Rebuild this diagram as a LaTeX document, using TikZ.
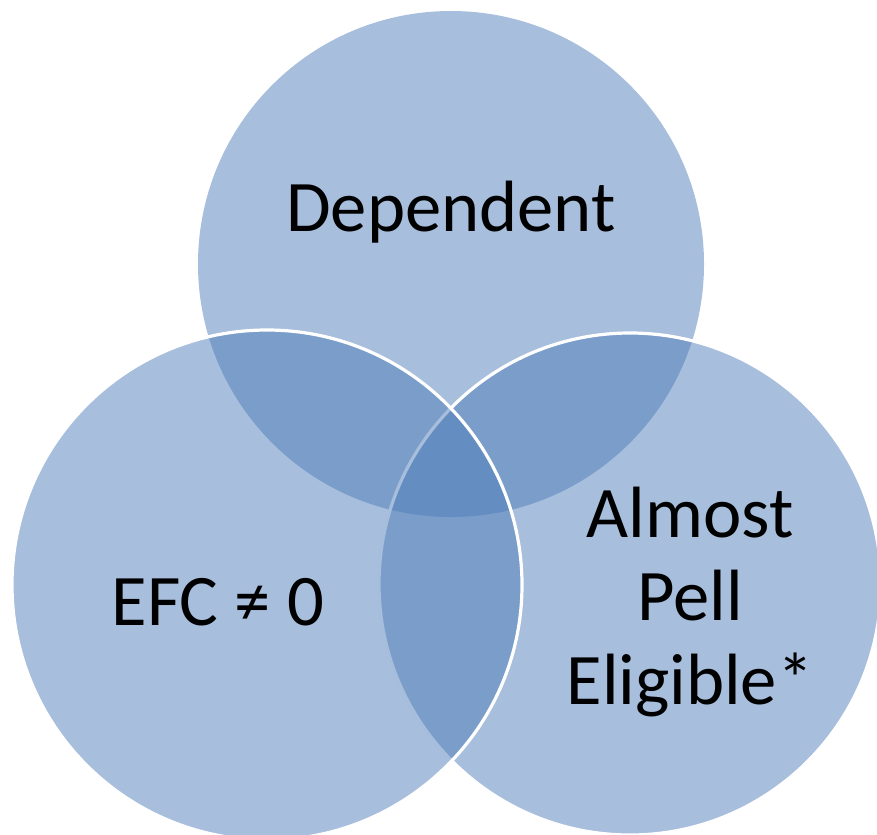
\documentclass[tikz,border=0pt]{standalone}
\usepackage{fontspec}
\setmainfont{Carlito}
\definecolor{venn}{HTML}{4F7DB9}
\begin{document}
\begin{tikzpicture}[x=0.03cm,y=-0.03cm,
  setfill/.style={fill=venn,fill opacity=0.5},
  setline/.style={draw=white,line width=3.2*0.03cm},
  lbl/.style={font=\fontsize{62}{71.4}\selectfont,align=center,text=black,inner sep=0pt}]
\useasboundingbox (0,0) rectangle (877,834);
\coordinate (ct) at (451,264);
\coordinate (cr) at (630,584);
\coordinate (cl) at (267,585);
\fill[setfill] (ct) circle (253);
\path[setfill,setline,draw opacity=1] (cr) circle (251);
\path[setfill,setline,draw opacity=1] (cl) circle (255);
\node[lbl] (dep) at (451,212) {Dependent};
\node[lbl] (efc) at (218,602) {EFC ≠ 0};
\node[lbl] (ape) at (690,602) {Almost\\Pell\\Eligible*};
\end{tikzpicture}
\end{document}
